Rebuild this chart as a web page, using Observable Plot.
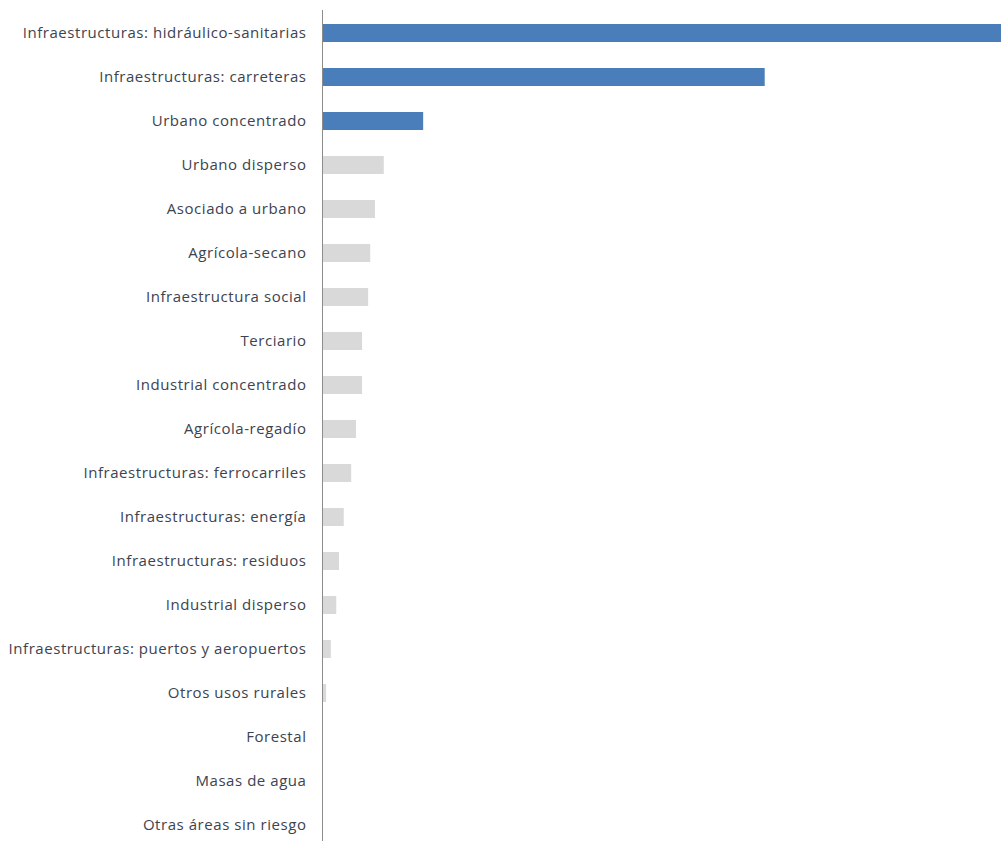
<!DOCTYPE html>
<html>
<head>
<meta charset="utf-8">
<script src="https://cdn.jsdelivr.net/npm/d3@7"></script>
<script src="https://cdn.jsdelivr.net/npm/@observablehq/plot@0.6"></script>
<style>
  html, body { margin: 0; padding: 0; background: #fff; }
  #chart svg { display: block; }
  #chart svg text { letter-spacing: 0.55px; }
</style>
</head>
<body>
<div id="chart"></div>
<script>
const categories = [
  "Infraestructuras: hidráulico-sanitarias",
  "Infraestructuras: carreteras",
  "Urbano concentrado",
  "Urbano disperso",
  "Asociado a urbano",
  "Agrícola-secano",
  "Infraestructura social",
  "Terciario",
  "Industrial concentrado",
  "Agrícola-regadío",
  "Infraestructuras: ferrocarriles",
  "Infraestructuras: energía",
  "Infraestructuras: residuos",
  "Industrial disperso",
  "Infraestructuras: puertos y aeropuertos",
  "Otros usos rurales",
  "Forestal",
  "Masas de agua",
  "Otras áreas sin riesgo"
];
const values = [100, 65.2, 14.9, 9.1, 7.8, 7.1, 6.8, 5.9, 5.9, 5.0, 4.3, 3.2, 2.5, 2.1, 1.3, 0.6, 0, 0, 0];
const highlighted = [true, true, true, false, false, false, false, false, false, false, false, false, false, false, false, false, false, false, false];

const data = categories.map((c, i) => ({category: c, value: values[i], hi: highlighted[i]}));

const chart = Plot.plot({
  width: 1001,
  height: 841,
  marginLeft: 322,
  marginRight: 0,
  marginTop: 10,
  marginBottom: 0,
  style: {fontFamily: "'Open Sans', sans-serif", fontSize: "15px", color: "#3d4350", background: "#fff"},
  x: {domain: [0, 100], axis: null},
  y: {domain: categories, range: [10, 847], paddingInner: 0.6, paddingOuter: 0.3, label: null},
  marks: [
    Plot.barX(data, {
      y: "category",
      x: "value",
      fill: d => d.hi ? "#4a7ebb" : "#d9d9d9"
    }),
    Plot.frame({anchor: "left", stroke: "#8c8c8c"}),
    Plot.axisY({tickSize: 0, tickPadding: 16, label: null, fill: "#3d4350"})
  ]
});
document.getElementById("chart").appendChild(chart);
</script>
</body>
</html>
